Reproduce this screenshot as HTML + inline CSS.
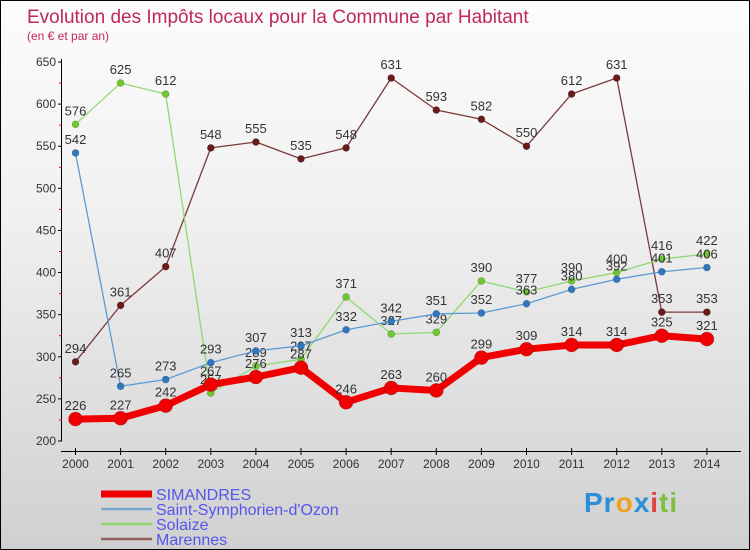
<!DOCTYPE html>
<html><head><meta charset="utf-8"><style>
body{margin:0}
#wrap{position:relative;width:748px;height:548px;border:1px solid #000;background:linear-gradient(#fcfcfc,#f0f0f0 40%,#d0d0d0);overflow:hidden;font-family:"Liberation Sans",sans-serif}
svg text{font-family:"Liberation Sans",sans-serif}
</style></head><body>
<div id="wrap">
<svg id="s" width="748" height="548">
<text x="26" y="22" font-size="19" fill="#c0285a">Evolution des Impôts locaux pour la Commune par Habitant</text>
<text x="26" y="39" font-size="12" fill="#c0285a">(en € et par an)</text>
</svg>
<div style="position:absolute;left:583px;top:486px;font-size:28px;font-weight:bold;letter-spacing:1px"><span style="color:#2a8fd8">Pr</span><span style="color:#f0a020">o</span><span style="color:#2a8fd8">x</span><span style="color:#e04040">i</span><span style="color:#7cc040">ti</span></div>
</div>
<script>
const years=["2000","2001","2002","2003","2004","2005","2006","2007","2008","2009","2010","2011","2012","2013","2014"];
const yTicks=[200,250,300,350,400,450,500,550,600,650];
const simandres=[226,227,242,267,276,287,246,263,260,299,309,314,314,325,321];
const saintSymph=[542,265,273,293,307,313,332,342,351,352,363,380,392,401,406];
const solaize=[576,625,612,257,289,297,371,327,329,390,377,390,400,416,422];
const marennes=[294,361,407,548,555,535,548,631,593,582,550,612,631,353,353];
const s=document.getElementById('s');const NS='http://www.w3.org/2000/svg';
function X(i){return 74.5+i*45.1}
function Y(v){return 440-(v-200)*(379/450)}
function el(t,a,p){const e=document.createElementNS(NS,t);for(const k in a)e.setAttribute(k,a[k]);(p||s).appendChild(e);return e}
const ax=el('g',{});


el('line',{x1:60.5,y1:58,x2:60.5,y2:440,stroke:'#000'},ax);
el('line',{x1:60,y1:450.5,x2:740,y2:450.5,stroke:'#000'},ax);
yTicks.forEach(v=>{const y=Y(v);el('line',{x1:57,y1:y,x2:61,y2:y,stroke:'#000'},ax);
const t=el('text',{x:55,y:y+4,'font-size':12,'text-anchor':'end',fill:'#333'},ax);t.textContent=v;


if(v<650){el('line',{x1:58,y1:Y(v+25),x2:61,y2:Y(v+25),stroke:'#e00'},ax);}});
years.forEach((yr,i)=>{el('line',{x1:X(i),y1:447,x2:X(i),y2:454,stroke:'#000'},ax);
const t=el('text',{x:X(i),y:467,'font-size':12,'text-anchor':'middle',fill:'#333'},ax);t.textContent=yr;

});
function series(data,color,w,r,dot,name){
const g=el('g',{});


el('polyline',{points:data.map((v,i)=>X(i)+','+Y(v)).join(' '),fill:'none',stroke:color,'stroke-width':w,'stroke-linejoin':'round'},g);
data.forEach((v,i)=>{const c=el('circle',{cx:X(i),cy:Y(v),r:r,fill:dot,stroke:'#0004','stroke-width':0.6},g);


const t=el('text',{x:X(i),y:Y(v)-9,'font-size':13,'text-anchor':'middle',fill:'#333'},g);t.textContent=v;

});}
series(marennes,'#7a3a3a',1.3,3.5,'#6a1a1a','marennes-series');
series(solaize,'#90d870',1.3,3.5,'#70c830','solaize-series');
series(saintSymph,'#5b9bd5',1.3,3.5,'#2f78c0','saint-symphorien-series');
series(simandres,'#f00000',7,7,'#f00000','simandres-series');
const leg=[['SIMANDRES','#f00000',7],['Saint-Symphorien-d\'Ozon','#7aa8cc',2.5],['Solaize','#90d870',2.5],['Marennes','#946060',2.5]];
leg.forEach((l,i)=>{const g=el('g',{});


const y=493+i*15;el('line',{x1:100,y1:y,x2:151,y2:y,stroke:l[1],'stroke-width':l[2]},g);
const t=el('text',{x:155,y:y+6,'font-size':16,fill:'#5555ee'},g);t.textContent=l[0];});
</script>
</body></html>
